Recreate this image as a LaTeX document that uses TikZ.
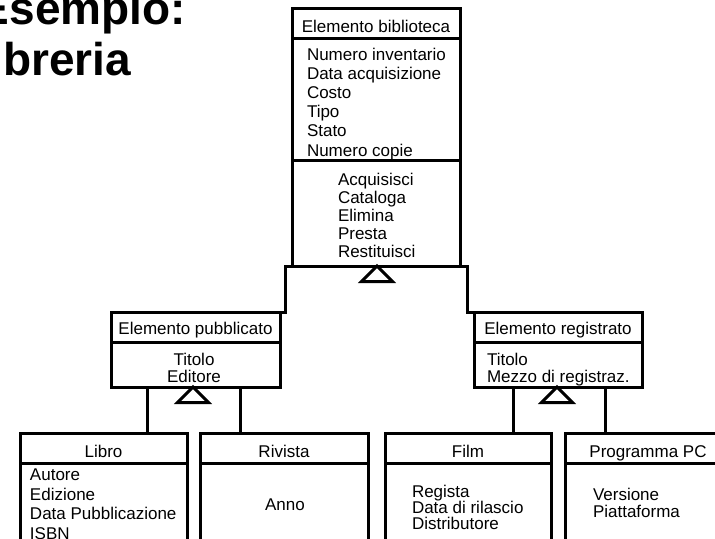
\documentclass[tikz,border=0pt]{standalone}
\usepackage{fontspec}
\setmainfont{Liberation Sans}
\tikzset{
  box/.style={draw, line width=2.25pt, inner sep=0pt, outer sep=0pt, anchor=north west},
  lbl/.style={inner sep=0pt, outer sep=0pt, font=\fontsize{12.75}{15}\selectfont},
  lw/.style={lbl, anchor=base west},
  lc/.style={lbl, anchor=base},
  conn/.style={line width=2.25pt},
  tri/.style={line width=2.25pt, line join=miter},
  ttl/.style={inner sep=0pt, outer sep=0pt, anchor=base east, font=\fontsize{34.5}{40}\selectfont\bfseries},
}
\newcommand{\classbox}[5]{\node[box, minimum width={(#4-#2)*0.75pt}, minimum height={(#5-#3)*0.75pt}] (#1) at (#2,#3) {};}
\begin{document}
\begin{tikzpicture}[x=0.75pt, y=-0.75pt]
\useasboundingbox (0,0) rectangle (715,539);
\clip (0,0) rectangle (715,539);
% title
\node[ttl] (t1) at (186,25) {Esempio:};
\node[ttl] (t2) at (131,75) {Libreria};
% boxes
\classbox{bib}{292}{8}{460}{266}
\classbox{pub}{111}{312}{280}{387}
\classbox{reg}{474}{312}{642}{387}
\classbox{libro}{20}{433}{187}{548}
\classbox{riv}{200}{433}{368}{548}
\classbox{film}{385}{433}{551}{548}
\classbox{prog}{565}{433}{732}{548}
% dividers
\draw[conn] (bib.west |- 0,38) -- (bib.east |- 0,38);
\draw[conn] (bib.west |- 0,160) -- (bib.east |- 0,160);
\draw[conn] (pub.west |- 0,342) -- (pub.east |- 0,342);
\draw[conn] (reg.west |- 0,342) -- (reg.east |- 0,342);
\draw[conn] (libro.west |- 0,463) -- (libro.east |- 0,463);
\draw[conn] (riv.west |- 0,463) -- (riv.east |- 0,463);
\draw[conn] (film.west |- 0,463) -- (film.east |- 0,463);
\draw[conn] (prog.west |- 0,463) -- (prog.east |- 0,463);
% generalisation from Elemento biblioteca
\coordinate (jl) at (285,266);
\coordinate (jr) at (467,266);
\draw[conn] (pub.north east) -| (jl) -- (jr) |- (reg.north west);
\coordinate (ta) at (377,266);
\draw[tri] (ta) -- ++(-15.5,15.5) -- ++(31,0) -- cycle;
% generalisation from Elemento pubblicato
\draw[conn] (pub.south -| 147,0) -- (libro.north -| 147,0);
\draw[conn] (pub.south -| 240,0) -- (riv.north -| 240,0);
\coordinate (tb) at (193,387);
\draw[tri] (tb) -- ++(-15.5,15.5) -- ++(31,0) -- cycle;
% generalisation from Elemento registrato
\draw[conn] (reg.south -| 513,0) -- (film.north -| 513,0);
\draw[conn] (reg.south -| 605,0) -- (prog.north -| 605,0);
\coordinate (tc) at (557,387);
\draw[tri] (tc) -- ++(-15.5,15.5) -- ++(31,0) -- cycle;
% Elemento biblioteca texts
\node[lc] (bibh) at (376,32) {Elemento biblioteca};
\node[lw] (a1) at (307,60.5) {Numero inventario};
\node[lw] (a2) at (307,79.6) {Data acquisizione};
\node[lw] (a3) at (307,98.7) {Costo};
\node[lw] (a4) at (307,117.8) {Tipo};
\node[lw] (a5) at (307,136.9) {Stato};
\node[lw] (a6) at (307,156) {Numero copie};
\node[lw] (m1) at (338,185.5) {Acquisisci};
\node[lw] (m2) at (338,203.4) {Cataloga};
\node[lw] (m3) at (338,221.3) {Elimina};
\node[lw] (m4) at (338,239.2) {Presta};
\node[lw] (m5) at (338,257.1) {Restituisci};
% Elemento pubblicato
\node[lc] (pubh) at (195.5,334) {Elemento pubblicato};
\node[lc] (p1) at (194,365.5) {Titolo};
\node[lc] (p2) at (194,382.2) {Editore};
% Elemento registrato
\node[lc] (regh) at (558,334) {Elemento registrato};
\node[lw] (r1) at (487,365.5) {Titolo};
\node[lw] (r2) at (487,382.2) {Mezzo di registraz.};
% Libro
\node[lc] (libh) at (103.5,457) {Libro};
\node[lw] (l1) at (30,480.5) {Autore};
\node[lw] (l2) at (30,500) {Edizione};
\node[lw] (l3) at (30,519.5) {Data Pubblicazione};
\node[lw] (l4) at (30,539) {ISBN};
% Rivista
\node[lc] (rivh) at (284,457) {Rivista};
\node[lc] (v1) at (285,510) {Anno};
% Film
\node[lc] (filmh) at (468,457) {Film};
\node[lw] (f1) at (412,497) {Regista};
\node[lw] (f2) at (412,513.3) {Data di rilascio};
\node[lw] (f3) at (412,529.6) {Distributore};
% Programma PC
\node[lc] (progh) at (648,457) {Programma PC};
\node[lw] (g1) at (593,500.5) {Versione};
\node[lw] (g2) at (593,517) {Piattaforma};
\end{tikzpicture}
\end{document}
